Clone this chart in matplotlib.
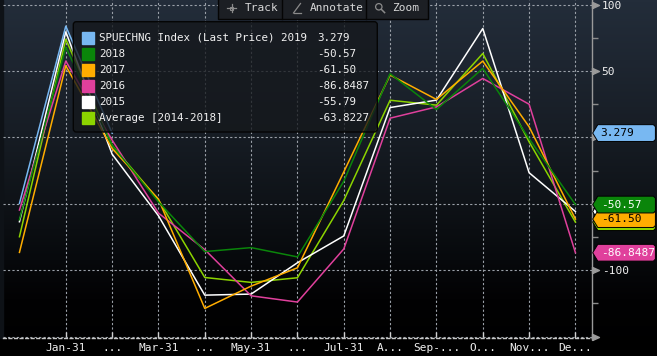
import numpy as np
import matplotlib
matplotlib.use("Agg")
import matplotlib.pyplot as plt
import matplotlib.transforms as mtransforms
from matplotlib.colors import LinearSegmentedColormap
from matplotlib.patches import Polygon, Rectangle, FancyBboxPatch, Circle

plt.rcParams["font.family"] = ["DejaVu Sans Mono", "DejaVu Sans"]

# ---------------- data ----------------
# x index: 0 = Dec-31 (prior year end), 1 = Jan-31 ... 12 = Dec-31
month_idx = list(range(13))
x_tick_pos = list(range(1, 13))
x_tick_labels = ["Jan-31", "...", "Mar-31", "...", "May-31", "...",
                 "Jul-31", "A...", "Sep-...", "O...", "Nov...", "De..."]

series_names = ["SPUECHNG Index (Last Price) 2019", "2018", "2017", "2016",
                "2015", "Average [2014-2018]"]
val_2019 = [-49.7, 83.8, 3.279]
val_2018 = [-62.0, 68.0, -6.0, -48.5, -86.0, -83.0, -90.0, -33.0, 48.0, 21.0, 52.0, -1.0, -50.57]
val_2017 = [-86.6, 54.0, -8.3, -46.5, -128.8, -112.0, -98.2, -26.0, 47.0, 28.6, 57.5, 8.0, -61.50]
val_2016 = [-54.7, 57.5, -2.0, -57.0, -84.5, -119.3, -124.0, -84.0, 14.5, 23.0, 44.4, 25.0, -86.8487]
val_2015 = [-63.5, 79.5, -12.6, -59.0, -118.8, -118.0, -94.4, -74.2, 22.5, 28.1, 82.0, -26.6, -55.79]
val_avg = [-74.8, 74.0, -6.0, -47.0, -105.5, -109.2, -105.7, -47.5, 28.0, 24.3, 63.2, -3.3, -63.8227]
last_labels = ["3.279", "-50.57", "-61.50", "-86.8487", "-55.79", "-63.8227"]

all_values = [val_2019, val_2018, val_2017, val_2016, val_2015, val_avg]
series_colors = ["#78b8f2", "#0a850a", "#ffad00", "#e0409c", "#ffffff", "#8cd400"]
tag_text_colors = ["#000000", "#ffffff", "#000000", "#ffffff", "#000000", "#000000"]
# bottom -> top stacking of the right-axis value tags; the 2015 and average
# tags are covered by the 2018 / 2017 tags, so their text is not visible
tag_draw_order = [4, 5, 2, 1, 3, 0]
tag_text_visible = [True, True, True, True, False, False]

y_major = [-150, -100, -50, 0, 50, 100]
y_major_labels = ["", "-100", "", "", "50", "100"]
y_minor = [-125, -75, -25, 25, 75]

W, H = 657, 356
fig = plt.figure(figsize=(W / 100, H / 100), dpi=100)
fig.patch.set_facecolor("black")

# ---------------- background gradient ----------------
bg = fig.add_axes([0, 0, 1, 1], zorder=-5)
bg.set_axis_off()
stops = [(0.0, "#232d3a"), (60 / H, "#1e2631"), (130 / H, "#171d25"),
         (200 / H, "#0f1318"), (260 / H, "#07090c"), (300 / H, "#020203"),
         (1.0, "#000000")]
cmap = LinearSegmentedColormap.from_list("bgc", stops)
grad = np.linspace(0, 1, 356).reshape(-1, 1)
bg.imshow(grad, cmap=cmap, aspect="auto", extent=[0, W, H, 0])
bg.add_patch(Rectangle((0, 0), 3, 338, color="#0e1217", zorder=2))
bg.set_xlim(0, W)
bg.set_ylim(H, 0)

# ---------------- main axes ----------------
ax_left, ax_right, ax_bot = 3.0, 591.7, 337.5
ax = fig.add_axes([ax_left / W, 1 - ax_bot / H, (ax_right - ax_left) / W, ax_bot / H])
ax.set_facecolor("none")
ax.set_xlim(-0.355, 12.351)
ax.set_ylim(-150.7, 103.5)

grid_kw = dict(color="#9aa0a8", lw=0.8, ls=(0, (2, 2)))
ax.set_yticks(y_major)
ax.set_yticklabels(y_major_labels)
ax.set_yticks(y_minor, minor=True)
ax.set_xticks(x_tick_pos)
ax.set_xticklabels(x_tick_labels)
ax.yaxis.tick_right()
ax.grid(True, which="major", axis="both", **grid_kw)
ax.tick_params(axis="y", which="major", length=0, pad=7.2, labelsize=8, labelcolor="#f0f0f0")
ax.tick_params(axis="y", which="minor", length=4, width=1, color="#8c8c8c", direction="out", right=True, left=False)
ax.tick_params(axis="x", which="major", length=4, width=1, color="#d0d0d0", direction="in", pad=4,
               labelsize=8, labelcolor="#f0f0f0")
for s in ["left", "top"]:
    ax.spines[s].set_visible(False)
ax.spines["right"].set_color("#9a9a9a")
ax.spines["right"].set_linewidth(1.0)
ax.spines["bottom"].set_color("#c8c8c8")
ax.spines["bottom"].set_linestyle((0, (2, 2)))
ax.spines["bottom"].set_linewidth(1.0)

# triangle major tick markers on the right axis
tri = [(0, -0.45), (0, 0.45), (1, 0), (0, -0.45)]
trans_tick = mtransforms.blended_transform_factory(ax.transAxes, ax.transData)
ax.plot([1.0] * len(y_major), y_major, ls="none", marker=tri, ms=10, color="#9a9a9a",
        transform=trans_tick, clip_on=False, zorder=5)

# series lines (2019 on top)
for k in [5, 4, 3, 2, 1, 0]:
    vals = all_values[k]
    ax.plot(month_idx[:len(vals)], vals, color=series_colors[k], lw=1.1, zorder=3 + (6 - k) * 0.1)

# ---------------- overlay (pixel coords) ----------------
ov = fig.add_axes([0, 0, 1, 1], zorder=10)
ov.set_facecolor("none")
ov.set_axis_off()
ov.set_xlim(0, W)
ov.set_ylim(H, 0)

# legend box
ov.add_patch(FancyBboxPatch((73.3, 21.7), 304, 110.3,
                            boxstyle="round,pad=0,rounding_size=3",
                            facecolor="#15181c", alpha=0.78, edgecolor="none"))
ov.add_patch(FancyBboxPatch((73.3, 21.7), 304, 110.3,
                            boxstyle="round,pad=0,rounding_size=3",
                            facecolor="none", edgecolor="#050505", lw=1.0))
for k, name in enumerate(series_names):
    yc = 37.7 + 16.05 * k
    ov.add_patch(Rectangle((81.7, yc - 6), 12.3, 12, color=series_colors[k]))
    ov.text(99, yc, name, color="#f2f2f2", fontsize=7.8, va="center", ha="left")
    ov.text(317.3, yc, last_labels[k], color="#f2f2f2", fontsize=7.8, va="center", ha="left")

# toolbar
ov.add_patch(Rectangle((218.3, -2), 209.4, 21, facecolor="#1c1f24", edgecolor="#050505", lw=1.0))
for sx in [282.3, 365.7]:
    ov.plot([sx, sx], [0, 19], color="#050505", lw=1.0)
icon_c = "#8a8a8a"
ov.plot([227.3, 236.1], [8, 8], color=icon_c, lw=0.9)
ov.plot([231.7, 231.7], [3.6, 12.4], color=icon_c, lw=0.9)
ov.add_patch(Rectangle((230.2, 6.5), 3, 3, facecolor="none", edgecolor=icon_c, lw=0.8))
ov.plot([293.5, 300.5], [13, 3.5], color=icon_c, lw=0.9)
ov.plot([293.5, 300.5], [13, 13], color=icon_c, lw=0.9)
ov.add_patch(Circle((378.8, 6.8), 3.2, facecolor="none", edgecolor=icon_c, lw=0.9))
ov.plot([381.3, 384.6], [9.3, 12.6], color=icon_c, lw=1.1)
tb_c = "#d8d8d8"
ov.text(245, 8.3, "Track", color=tb_c, fontsize=8, va="center", ha="left")
ov.text(310, 8.3, "Annotate", color=tb_c, fontsize=8, va="center", ha="left")
ov.text(392.3, 8.3, "Zoom", color=tb_c, fontsize=8, va="center", ha="left")

# last-value tags on the right axis
tag_tr = mtransforms.blended_transform_factory(ov.transData, ax.transData)
px_per_unit = 1.3275
half_h = 8.4 / px_per_unit
bev_y = 2.0 / px_per_unit
tip_x, body_x, right_x, bev_x = 592.7, 597.8, 655.4, 2.0
for j, k in enumerate(tag_draw_order):
    v = all_values[k][-1]
    verts = [(tip_x, v), (body_x, v + half_h), (right_x - bev_x, v + half_h),
             (right_x, v + half_h - bev_y), (right_x, v - half_h + bev_y),
             (right_x - bev_x, v - half_h), (body_x, v - half_h)]
    ov.add_patch(Polygon(verts, closed=True, facecolor=series_colors[k], edgecolor="#000000",
                         lw=0.7, transform=tag_tr, clip_on=False, zorder=20 + 2 * j))
    if tag_text_visible[k]:
        ov.text(600.7, v, last_labels[k], color=tag_text_colors[k], fontsize=8, va="center",
                ha="left", transform=tag_tr, clip_on=False, zorder=21 + 2 * j)

fig.savefig("out.png", dpi=100, facecolor="black")
